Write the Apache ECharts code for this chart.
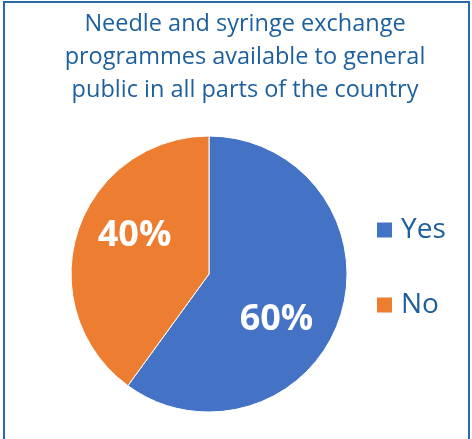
<!DOCTYPE html>
<html>
<head>
<meta charset="utf-8">
<script src="https://cdn.jsdelivr.net/npm/echarts@6/dist/echarts.min.js"></script>
<style>
  html, body { margin: 0; padding: 0; background: #fff; }
  #chart { position: absolute; left: 0; top: 0; width: 472px; height: 439px; }
  #frame { position: absolute; left: 3px; top: 1px; width: 463px; height: 460px;
           border: 2px solid #2a6aa8; pointer-events: none; }
</style>
</head>
<body>
<div id="chart"></div>
<div id="frame"></div>
<script>
const titleText = 'Needle and syringe exchange\nprogrammes available to general\npublic in all parts of the country'
const categories = ['Yes', 'No']
const shares = [60, 40]
const sliceColors = ['#4472C4', '#ED7D31']

// label nudges so they sit where the original puts them
const labelShift = [[-1, 24], [-6, -16]]

const chart = echarts.init(document.getElementById('chart'))

chart.setOption({
  animation: false,
  color: sliceColors,
  title: {
    text: titleText,
    left: 245,
    top: 8,
    padding: 0,
    textAlign: 'center',
    textStyle: {
      fontFamily: 'Open Sans',
      fontSize: 23.5,
      fontWeight: 'normal',
      lineHeight: 33,
      color: '#1d5f9d'
    }
  },
  legend: {
    orient: 'vertical',
    left: 375,
    top: 213,
    padding: 0,
    icon: 'rect',
    itemWidth: 17,
    itemHeight: 17,
    itemGap: 41,
    data: categories,
    textStyle: {
      fontFamily: 'Open Sans',
      fontSize: 28,
      lineHeight: 34,
      color: '#1d5f9d',
      padding: [0, 0, 0, 3]
    }
  },
  series: [{
    type: 'pie',
    center: [209, 274],
    radius: 138,
    startAngle: 90,
    clockwise: true,
    silent: true,
    itemStyle: {
      borderColor: '#ffffff',
      borderWidth: 1
    },
    label: {
      show: true,
      position: 'inside',
      formatter: '{c}%',
      color: '#ffffff',
      fontFamily: 'Open Sans',
      fontWeight: 'bold',
      fontSize: 36
    },
    labelLayout: function (params) {
      const s = labelShift[params.dataIndex]
      return { dx: s[0], dy: s[1] }
    },
    data: categories.map((name, i) => ({ name: name, value: shares[i] }))
  }]
})
</script>
</body>
</html>
